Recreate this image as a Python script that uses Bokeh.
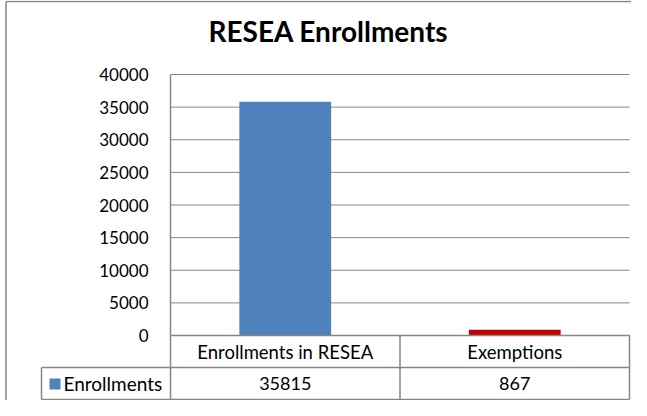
from bokeh.plotting import figure
from bokeh.models import Range1d, FixedTicker, Label
from bokeh.embed import file_html
from bokeh.resources import INLINE

# ---- data ----
title_text = "RESEA Enrollments"
categories = ["Enrollments in RESEA", "Exemptions"]
series_name = "Enrollments"
values = [35815, 867]
bar_colors = ["#4F81BD", "#C00000"]
y_ticks = [0, 5000, 10000, 15000, 20000, 25000, 30000, 35000, 40000]

# ---- layout (reference pixels, shifted up to fit the window) ----
W, H = 631, 400
OFFY = 7
PL, PR, PT, PB = 170, 629, 81, 342   # plot area edges (reference pixels)
PW, PH = PR - PL, PB - PT
YMAX = 40000
NCAT = len(categories)
FONT = "Lato"
GRAY = "#868686"

def dx(px):
    return (px - PL) / PW * NCAT

def dy(py):
    return (PB - py) / PH * YMAX

p = figure(width=W, height=H, output_backend="svg", toolbar_location=None,
           x_range=Range1d(dx(0), dx(W)), y_range=Range1d(dy(H + OFFY), dy(OFFY)),
           min_border=0)
p.outline_line_color = None
p.xaxis.visible = False
p.grid.visible = False
p.yaxis.fixed_location = 0
p.yaxis.bounds = (0, YMAX)
p.yaxis.ticker = FixedTicker(ticks=y_ticks)
p.yaxis.major_tick_line_color = None
p.yaxis.minor_tick_line_color = None
p.yaxis.axis_line_color = GRAY
p.yaxis.axis_line_width = 1.5
p.yaxis.major_label_standoff = 16
p.yaxis.major_label_text_font = FONT
p.yaxis.major_label_text_font_size = "17px"
p.yaxis.major_label_text_color = "black"

# gridlines at the y ticks, across the plot area
p.segment(x0=[0] * len(y_ticks), x1=[NCAT] * len(y_ticks), y0=y_ticks, y1=y_ticks,
          line_color=GRAY, line_width=1)

xs = [i + 0.5 for i in range(NCAT)]
p.vbar(x=xs, top=values, width=0.4, color=bar_colors, line_color=None)

# outer chart border (left and top edges)
top_edge = OFFY + 1
p.segment(x0=[dx(5.5), dx(5.5)], x1=[dx(5.5), dx(700)], y0=[dy(700), dy(top_edge)],
          y1=[dy(top_edge), dy(top_edge)], line_color=GRAY, line_width=1.5)

# title
p.add_layout(Label(x=dx(328), y=dy(37), text=title_text, text_align="center",
                   text_baseline="middle", text_font=FONT, text_font_style="bold",
                   text_font_size="28px", text_color="black"))

# data table grid
hdr_top, hdr_bot, row_bot, tbl_left = 342, 374, 406, 41
tx0 = [0, dx(tbl_left), dx(tbl_left)] + list(range(0, NCAT + 1)) + [dx(tbl_left)]
tx1 = [NCAT, NCAT, NCAT] + list(range(0, NCAT + 1)) + [dx(tbl_left)]
ty0 = [dy(hdr_top), dy(hdr_bot), dy(row_bot)] + [dy(hdr_top)] * (NCAT + 1) + [dy(hdr_bot)]
ty1 = [dy(hdr_top), dy(hdr_bot), dy(row_bot)] + [dy(row_bot)] * (NCAT + 1) + [dy(row_bot)]
p.segment(x0=tx0, x1=tx1, y0=ty0, y1=ty1, line_color=GRAY, line_width=1.5)

for x, cat, v in zip(xs, categories, values):
    p.add_layout(Label(x=x, y=dy((hdr_top + hdr_bot) / 2), text=cat, text_align="center",
                       text_baseline="middle", text_font=FONT, text_font_size="18.5px",
                       text_color="black"))
    p.add_layout(Label(x=x, y=dy((hdr_bot + row_bot) / 2), text=str(v), text_align="center",
                       text_baseline="middle", text_font=FONT, text_font_size="18px",
                       text_color="black"))

# legend key in the table
p.quad(left=[dx(49)], right=[dx(60)], top=[dy(385)], bottom=[dy(396)],
       color=bar_colors[0], line_color=None)
p.add_layout(Label(x=dx(63), y=dy((hdr_bot + row_bot) / 2), text=series_name,
                   text_align="left", text_baseline="middle", text_font=FONT,
                   text_font_size="19px", text_color="black"))

open("out.html", "w").write(file_html(p, INLINE))
